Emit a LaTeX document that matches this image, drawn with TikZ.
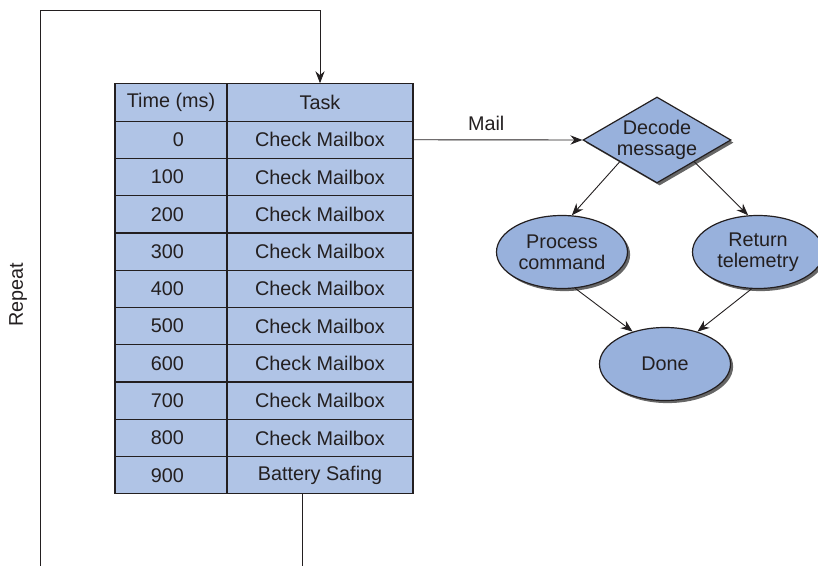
\documentclass[tikz,border=0pt]{standalone}
\usepackage{fontspec}
\setmainfont{Liberation Sans}
\usetikzlibrary{arrows.meta,positioning,shapes.geometric,shadows}
\definecolor{cellblue}{RGB}{176,196,230}
\definecolor{shapeblue}{RGB}{152,177,220}
\definecolor{inkgray}{RGB}{35,31,32}

\begin{document}
\begin{tikzpicture}[x=0.5pt, y=-0.5pt, >={Stealth[length=6pt,width=4.6pt]},
    every node/.style={font=\fontsize{9.9}{10.4}\selectfont, text=inkgray},
    cell/.style={draw=inkgray, fill=cellblue, line width=0.6pt, minimum height=18.64pt, inner sep=0pt},
    timecell/.style={cell, minimum width=56pt},
    taskcell/.style={cell, minimum width=93pt},
    flowshape/.style={draw=inkgray, fill=shapeblue, line width=0.6pt, align=center, inner sep=0pt,
      drop shadow={shadow xshift=1.3pt, shadow yshift=-1.3pt, fill=black!80, opacity=0.75}},
    link/.style={draw=inkgray, line width=0.45pt}]
    \useasboundingbox (0,0) rectangle (818,566);

    % schedule table
    \node[timecell] (time0) at (171,102.5) {Time (ms)};
    \node[taskcell] (task0) at (320,102.5) {Task};
    \foreach \ms/\job [count=\r] in {0/Check Mailbox, 100/Check Mailbox, 200/Check Mailbox,
        300/Check Mailbox, 400/Check Mailbox, 500/Check Mailbox, 600/Check Mailbox,
        700/Check Mailbox, 800/Check Mailbox, 900/Battery Safing} {
      \node[timecell] (time\r) at (171,{102.5+37.27*\r}) {\makebox[13pt][r]{\ms}};
      \node[taskcell] (task\r) at (320,{102.5+37.27*\r}) {\job};
    }

    % repeat loop
    \coordinate (loopout) at (302,566);
    \coordinate (loopin) at (40,566);
    \draw[link] ([xshift=-9pt]task10.south) -- (loopout);
    \draw[link, ->] (loopin) -- ++(0,-556) -| (task0.north);
    \node[rotate=90] (repeat) at (18,295) {Repeat};

    % mailbox handling
    \node[flowshape, diamond, aspect=1.72, minimum width=74pt, minimum height=43pt] (decode) at (657,140) {Decode\\message};
    \node[flowshape, ellipse, minimum width=65.5pt, minimum height=36.5pt] (process) at (562,252) {Process\\command};
    \node[flowshape, ellipse, minimum width=65.5pt, minimum height=36.5pt] (telemetry) at (758,252) {Return\\telemetry};
    \node[flowshape, ellipse, minimum width=65.5pt, minimum height=36.5pt] (done) at (665,364) {Done};

    \draw[link, ->] (task1.east) -- (decode.west) node[pos=0.43, above=1pt] (mail) {Mail};
    \draw[link, ->] (decode.south west) -- (process.75);
    \draw[link, ->] (decode.south east) -- (telemetry.105);
    \draw[link, ->] (process.-70) -- (done.135);
    \draw[link, ->] (telemetry.-100) -- (done.45);
\end{tikzpicture}
\end{document}
